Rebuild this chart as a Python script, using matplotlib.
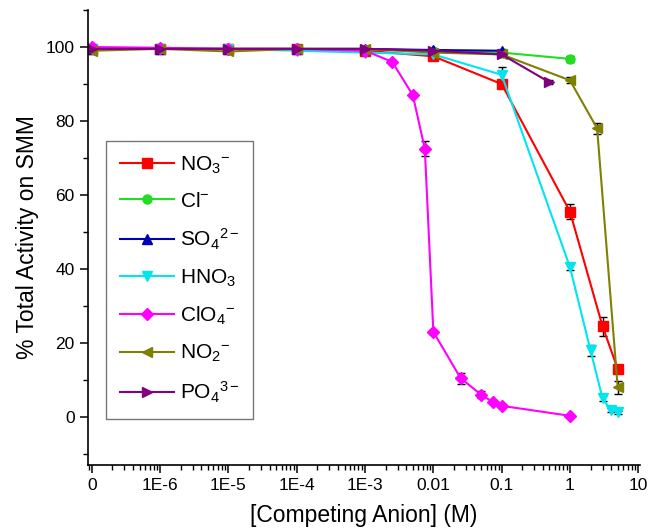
import matplotlib
matplotlib.use("Agg")
import matplotlib.pyplot as plt
import numpy as np
from matplotlib.lines import Line2D
from matplotlib.ticker import LogLocator, FixedLocator, NullFormatter

plt.rcParams["font.family"] = ["Liberation Sans", "DejaVu Sans"]
plt.rcParams["mathtext.fontset"] = "custom"
plt.rcParams["mathtext.rm"] = "Liberation Sans"
plt.rcParams["mathtext.it"] = "Liberation Sans"

# concentration 0 is drawn at the 1E-7 slot of the log axis (labelled "0")
ZERO_POS = 1e-7

labels = [r"NO$_3$$^{-}$", r"Cl$^{-}$", r"SO$_4$$^{2-}$", r"HNO$_3$",
          r"ClO$_4$$^{-}$", r"NO$_2$$^{-}$", r"PO$_4$$^{3-}$"]
colors = ["#ff0000", "#22dd22", "#0000b0", "#00e5ee", "#ff00ff", "#808000", "#800080"]
markers = ["s", "o", "^", "v", "D", "<", ">"]

no3_x = [0, 1e-6, 1e-5, 1e-4, 1e-3, 0.01, 0.1, 1, 3, 5]
no3_y = [99.5, 99.5, 99.5, 99.5, 99, 97.5, 90, 55.5, 24.5, 13]
no3_e = [0.5, 0.5, 0.5, 0.5, 0.8, 0.8, 1.2, 2, 2.5, 1]

cl_x = [0, 1e-6, 1e-5, 1e-4, 1e-3, 0.01, 0.1, 1]
cl_y = [99.5, 99.5, 99.5, 99.5, 99.3, 99, 98.5, 96.8]
cl_e = [0.5, 0.5, 0.5, 0.5, 0.5, 0.5, 0.5, 0.8]

so4_x = [0, 1e-6, 1e-5, 1e-4, 1e-3, 0.01, 0.1]
so4_y = [99.5, 99.5, 99.5, 99.5, 99.5, 99.2, 99]
so4_e = [0.5, 0.5, 0.5, 0.5, 0.5, 0.5, 0.5]

hno3_x = [0, 1e-6, 1e-5, 1e-4, 1e-3, 0.01, 0.1, 1, 2, 3, 4, 5]
hno3_y = [99.5, 99.5, 99.5, 99, 98.5, 98, 92.5, 40.5, 18, 5, 1.8, 1.2]
hno3_e = [0.5, 0.5, 0.5, 0.5, 0.5, 0.5, 2, 0.8, 1.5, 0.8, 0.5, 0.5]

clo4_x = [0, 1e-6, 1e-5, 1e-4, 1e-3, 0.0025, 0.005, 0.0075, 0.01, 0.025, 0.05, 0.075, 0.1, 1]
clo4_y = [100, 99.8, 99.5, 99.5, 99, 96, 87, 72.5, 23, 10.5, 6, 4, 3, 0.3]
clo4_e = [0.5, 0.5, 0.5, 0.5, 0.5, 0.5, 0.5, 2, 0.5, 1.5, 1, 0.5, 0.5, 0.3]

no2_x = [0, 1e-6, 1e-5, 1e-4, 1e-3, 0.01, 0.1, 1, 2.5, 5]
no2_y = [99, 99.5, 98.8, 99.5, 99.5, 98.5, 98, 91, 78, 8]
no2_e = [0.5, 0.5, 0.5, 0.5, 0.5, 0.5, 0.5, 0.8, 1.5, 1.8]

po4_x = [0, 1e-6, 1e-5, 1e-4, 1e-3, 0.01, 0.1, 0.5]
po4_y = [99.5, 99.5, 99.5, 99.5, 99.5, 99, 98, 90.5]
po4_e = [0.5, 0.5, 0.5, 0.5, 0.5, 0.5, 0.5, 0.5]

series = [(no3_x, no3_y, no3_e), (cl_x, cl_y, cl_e), (so4_x, so4_y, so4_e),
          (hno3_x, hno3_y, hno3_e), (clo4_x, clo4_y, clo4_e),
          (no2_x, no2_y, no2_e), (po4_x, po4_y, po4_e)]

xtick_vals = [1e-7, 1e-6, 1e-5, 1e-4, 1e-3, 1e-2, 1e-1, 1, 10]
xtick_labels = ["0", "1E-6", "1E-5", "1E-4", "1E-3", "0.01", "0.1", "1", "10"]

fig = plt.figure(figsize=(6.5, 5.29), dpi=100)
ax = fig.add_axes([0.135, 0.121, 0.85, 0.86])

handles = []
for (xs, ys, es), lab, col, mk in zip(series, labels, colors, markers):
    xp = [ZERO_POS if v == 0 else v for v in xs]
    ax.errorbar(xp, ys, yerr=es, color=col, ecolor="black", elinewidth=1.0,
                capsize=3, capthick=1.0, marker=mk, markersize=6.5,
                markeredgecolor=col, linewidth=1.5)
    handles.append(Line2D([], [], color=col, marker=mk, markersize=6.5,
                          markeredgecolor=col, linewidth=1.5, label=lab))

ax.set_xscale("log")
ax.set_xlim(8.7e-8, 10.7)
ax.set_ylim(-13, 110)
ax.xaxis.set_major_locator(FixedLocator(xtick_vals))
ax.set_xticklabels(xtick_labels)
ax.xaxis.set_minor_locator(LogLocator(base=10, subs=np.arange(2, 10), numticks=20))
ax.xaxis.set_minor_formatter(NullFormatter())
ax.yaxis.set_major_locator(FixedLocator([0, 20, 40, 60, 80, 100]))
ax.yaxis.set_minor_locator(FixedLocator([-10, 10, 30, 50, 70, 90, 110]))

for side in ("top", "right"):
    ax.spines[side].set_visible(False)
for side in ("left", "bottom"):
    ax.spines[side].set_linewidth(1.2)

ax.tick_params(which="major", direction="out", length=6, width=1.1, labelsize=12.5)
ax.tick_params(which="minor", direction="out", length=3.5, width=1.0)

ax.set_xlabel("[Competing Anion] (M)", fontsize=16.5, labelpad=8)
ax.set_ylabel("% Total Activity on SMM", fontsize=16.5, labelpad=5)

leg = ax.legend(handles=handles, loc="upper left", bbox_to_anchor=(0.033, 0.712),
                borderaxespad=0, fontsize=15, frameon=True, fancybox=False,
                edgecolor="#555555", handlelength=2.6, labelspacing=0.76,
                borderpad=0.65, handletextpad=0.3)
leg.get_frame().set_linewidth(1.0)

fig.savefig("out.png", dpi=100)
